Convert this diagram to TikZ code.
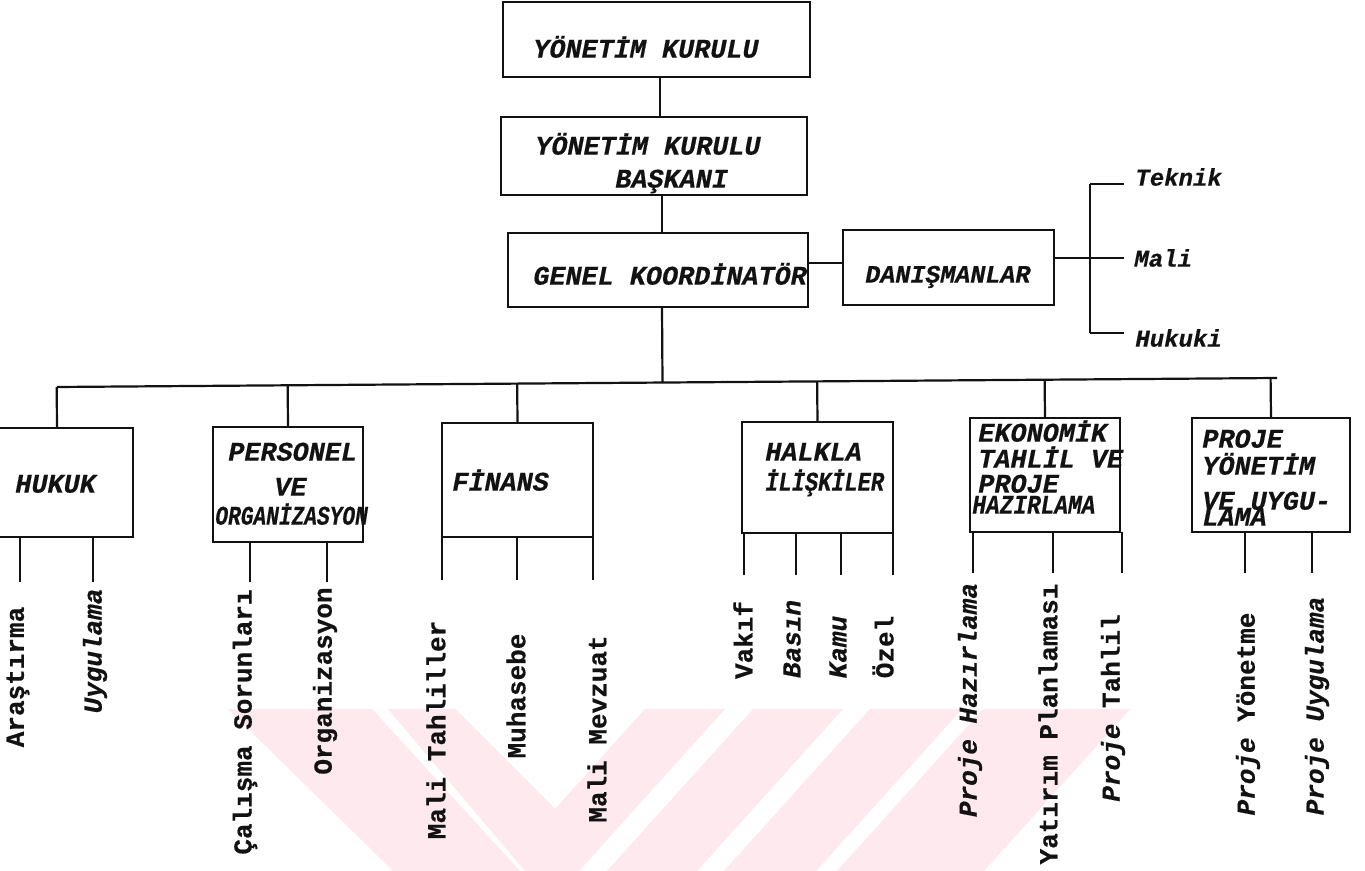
\documentclass[tikz,border=0pt]{standalone}
\usepackage{fontspec}
\setmonofont{Liberation Mono}[BoldFeatures={FakeBold=0.5},BoldItalicFeatures={FakeBold=0.5}]
\usepackage{graphicx}
\usetikzlibrary{fit,calc}
\definecolor{ink}{RGB}{18,18,18}
\definecolor{stamp}{RGB}{253,233,238}

\begin{document}
\begin{tikzpicture}[x=0.5pt,y=-0.5pt,
  wire/.style={draw=ink,line width=1.1pt},
  box/.style={draw=ink,line width=1.1pt,inner sep=0pt,outer sep=0pt},
  head/.style={font=\fontsize{13.4}{15}\selectfont\ttfamily\bfseries\itshape,text=ink,
               inner sep=0pt,anchor=west,text height=7.6pt,text depth=0pt},
  side/.style={font=\fontsize{12}{14}\selectfont\ttfamily\bfseries\itshape,text=ink,
               inner sep=0pt,anchor=west},
  leaf/.style={font=\fontsize{13}{15}\selectfont\ttfamily\bfseries,text=ink,
               inner sep=0pt,rotate=90},
  leafit/.style={leaf,font=\fontsize{13}{15}\selectfont\ttfamily\bfseries\itshape},
]
\fill[white] (0,0) rectangle (1365,871);
\useasboundingbox (0,0) rectangle (1365,871);

% faint background emblem
\fill[stamp] (228,709) -- (372,709) -- (520,871) -- (393,871) -- cycle;
\fill[stamp] (388,709) -- (455,709) -- (555,809) -- (645,709) -- (725,709)
             -- (579,871) -- (525,871) -- cycle;
\fill[stamp] (753,709) -- (843,709) -- (697,871) -- (607,871) -- cycle;
\fill[stamp] (870,709) -- (962,709) -- (816,871) -- (724,871) -- cycle;
\fill[stamp] (983,709) -- (1130,709) -- (984,871) -- (837,871) -- cycle;

% boxes
\node[box,fit={(503,2)(810,77)}] (yk) {};
\node[box,fit={(501,117)(807,195)}] (ykb) {};
\node[box,fit={(508,233)(808,307)}] (gk) {};
\node[box,fit={(843,230)(1054,305)}] (dan) {};
\node[box,fit={(-19,428)(133,537)}] (hukuk) {};
\node[box,fit={(213,427)(363,542)}] (pers) {};
\node[box,fit={(442,423)(593,537)}] (fin) {};
\node[box,fit={(742,422)(893,533)}] (halk) {};
\node[box,fit={(970,418)(1120,532)}] (eko) {};
\node[box,fit={(1192,418)(1350,532)}] (proje) {};

% box titles
\node[head] (t-yk) at (533,50) {YÖNETİM KURULU};
\node[head] (t-ykb1) at (535,147) {YÖNETİM KURULU};
\node[head] (t-ykb2) at (615,180) {BAŞKANI};
\node[head] (t-gk) at (533,277) {GENEL KOORDİNATÖR};
\node[head,font=\fontsize{12.5}{14}\selectfont\ttfamily\bfseries\itshape] (t-dan) at (865,275) {DANIŞMANLAR};
\node[head] (t-huk) at (15,485) {HUKUK};
\node[head] (t-per1) at (228,453) {PERSONEL};
\node[head] (t-per2) at (274,488) {VE};
\node[head] (t-per3) at (215,517) {\scalebox{0.79}[1]{ORGANİZASYON}};
\node[head] (t-fin) at (452,483) {FİNANS};
\node[head] (t-hal1) at (765,453) {HALKLA};
\node[head] (t-hal2) at (765,483) {\scalebox{0.82}[1]{İLİŞKİLER}};
\node[head] (t-eko1) at (978,434) {EKONOMİK};
\node[head] (t-eko2) at (978,460) {TAHLİL VE};
\node[head] (t-eko3) at (978,485) {PROJE};
\node[head] (t-eko4) at (972,506) {\scalebox{0.85}[1]{HAZIRLAMA}};
\node[head] (t-pro1) at (1202,440) {PROJE};
\node[head] (t-pro2) at (1202,467) {YÖNETİM};
\node[head] (t-pro3) at (1202,502) {VE UYGU-};
\node[head] (t-pro4) at (1202,518) {LAMA};

% consultants
\node[side] (t-tek) at (1135,177) {Teknik};
\node[side] (t-mal) at (1134,258) {Mali};
\node[side] (t-huku) at (1135,338) {Hukuki};

% upper chain
\draw[wire] (yk.south -| 660,0) -- (ykb.north -| 660,0);
\draw[wire] (ykb.south -| 662,0) -- (gk.north -| 662,0);
\draw[wire] (gk.east |- 0,263) -- (dan.west |- 0,263);

% consultant bracket
\coordinate (br) at (1090,258);
\coordinate (brT) at (1090,184);
\coordinate (brB) at (1090,333);
\coordinate (tkT) at (1124,184);
\coordinate (tkB) at (1124,333);
\draw[wire] (dan.east |- br) -- (br);
\draw[wire] (brT) -- (brB);
\draw[wire] (brT) -- (tkT);
\draw[wire] (br) -- (t-mal.west -| tkT);
\draw[wire] (brB) -- (tkB);

% main bus (slightly rising to the right)
\coordinate (busL) at (57,387);
\coordinate (busR) at (1277,378);
\coordinate (gkfoot) at (662,307);
\draw[wire] (gk.south -| gkfoot) -- ($(busL)!(gkfoot)!(busR)$);
\draw[wire] (busL) -- (busR);
\foreach \b in {hukuk,pers,fin,halk,eko,proje}
  \draw[wire] ($(busL)!(\b.north)!(busR)$) -- (\b.north);

% drops to the sub-units
\foreach \b/\x/\e in {hukuk/20/582, hukuk/93/582, pers/250/582, pers/327/582,
    fin/442/580, fin/517/580, fin/593/580,
    halk/744/575, halk/796/575, halk/841/575, halk/893/575,
    eko/973/573, eko/1053/573, eko/1122/573, proje/1245/573, proje/1312/573}{
  \coordinate (end-\x) at (\x,\e);
  \draw[wire] (\b.south -| end-\x) -- (end-\x);
}

% sub-unit labels
\node[leaf]   (l-ara) at (18,677) {Araştırma};
\node[leafit] (l-uyg) at (95,651) {Uygulama};
\node[leaf]   (l-cal) at (245,722) {Çalışma Sorunları};
\node[leaf]   (l-org) at (325,681) {Organizasyon};
\node[leaf]   (l-mta) at (436,730) {Mali Tahliller};
\node[leaf]   (l-muh) at (516,696) {Muhasebe};
\node[leaf]   (l-mme) at (597,729) {Mali Mevzuat};
\node[leaf]   (l-vak) at (743,640) {Vakıf};
\node[leafit] (l-bas) at (792,639) {Basın};
\node[leafit] (l-kam) at (838,647) {Kamu};
\node[leaf]   (l-oze) at (883,647) {Özel};
\node[leafit] (l-phz) at (970,700) {Proje Hazırlama};
\node[leaf]   (l-yat) at (1048,724) {Yatırım Planlaması};
\node[leaf]   (l-pta) at (1113,708) {\textit{Proje} Tahlil};
\node[leaf]   (l-pyo) at (1248,714) {\textit{Proje} Yönetme};
\node[leafit] (l-puy) at (1317,706) {Proje Uygulama};
\end{tikzpicture}
\end{document}
